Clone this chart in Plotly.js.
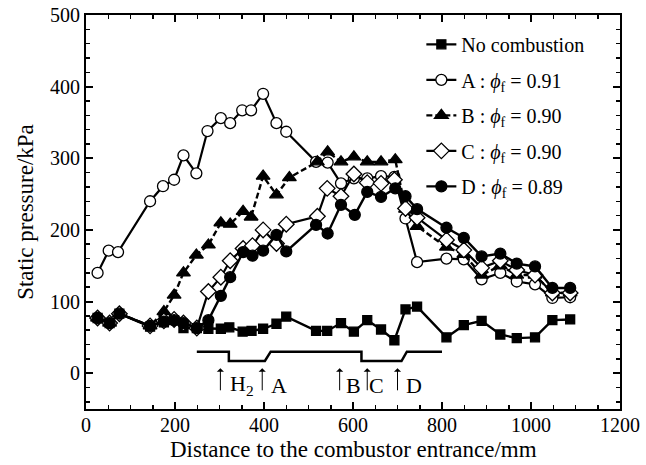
<!DOCTYPE html>
<html>
<head>
<meta charset="utf-8">
<script src="https://cdn.plot.ly/plotly-3.0.1.min.js"></script>
<style>html,body{margin:0;padding:0;background:#fff;}#chart{width:646px;height:465px;}</style>
</head>
<body>
<div id="chart"></div>
<script>
// ---- data ----
const noCombX = [26,53,75,144,175,198,219,249,275,303,322,352,372,398,428,450,517,542,573,602,632,663,693,718,744,810,849,889,931,968,1009,1048,1088];
const noCombY = [77,70,83,65,71,74,63,63,62,62,64,58,59,62,69,79,59,59,70,58,74,61,46,89,93,50,67,73,54,49,50,74,75];

const aX = [26,51,72,144,173,198,219,248,273,303,324,351,371,398,428,450,517,543,573,602,632,663,693,718,744,810,849,889,931,968,1009,1048,1088];
const aY = [140,171,169,240,261,270,304,279,338,356,349,367,367,390,349,337,295,294,265,272,272,275,274,216,155,160,159,131,140,128,124,105,106];

const bX = [26,53,75,144,175,198,219,248,275,303,324,353,371,398,428,457,520,543,573,602,632,663,695,718,744,810,849,889,931,968,1009,1048,1088];
const bY = [77,70,83,66,86,109,140,165,179,210,208,226,218,275,249,273,295,309,295,302,295,295,298,229,205,176,166,137,150,137,137,112,112];

const cX = [26,53,75,144,175,198,219,249,275,303,324,353,374,398,428,450,520,542,573,602,632,663,693,718,744,810,849,889,931,968,1009,1048,1088];
const cY = [77,70,83,66,73,75,70,63,114,134,157,174,178,200,181,208,219,258,247,278,266,265,270,230,217,186,172,147,157,144,137,112,112];

const dX = [26,53,75,144,175,198,219,249,275,303,324,353,374,398,428,450,517,543,573,604,632,663,695,718,744,810,849,889,931,968,1009,1048,1088];
const dY = [77,70,83,66,72,74,70,63,74,108,134,169,164,171,193,170,207,195,235,221,253,246,258,247,229,203,189,163,167,153,149,119,119];

const seriesNames = [
  'No combustion',
  'A : <i>ϕ</i><sub>f</sub> = 0.91',
  'B : <i>ϕ</i><sub>f</sub> = 0.90',
  'C : <i>ϕ</i><sub>f</sub> = 0.90',
  'D : <i>ϕ</i><sub>f</sub> = 0.89'
];

// combustor wall profile
const profileX = [249,321,321,402,415,619,619,709,721,800];
const profileY = [30,30,17,17,30,30,17,17,30,30];

// injector arrows and labels
const arrowX = [302,396,570,632,700];
const arrowTopY = 7, arrowBottomY = -26;
const labelX = [351,434,600,653,736];
const labelText = ['H<sub>2</sub>','A','B','C','D'];
const labelY = -17;

const xTitle = 'Distance to the combustor entrance/mm';
const yTitle = 'Static pressure/kPa';

// ---- chart ----
const FONT = 'Liberation Serif, Times New Roman, serif';
function mk(x, y, name, symbol, fill, size, dash, lw, group) {
  return {
    x: x, y: y, name: name, type: 'scatter', mode: 'lines+markers',
    legendgroup: group,
    line: {color: '#000', width: lw, dash: dash},
    marker: {symbol: symbol, size: size, color: fill, line: {color: '#000', width: 1.3}}
  };
}
const traces = [
  {x: profileX, y: profileY, type: 'scatter', mode: 'lines', showlegend: false,
   line: {color: '#000', width: 2.5}, hoverinfo: 'skip'},
  mk(noCombX, noCombY, seriesNames[0], 'square', '#000', 9, 'solid', 2.4, 'g0'),
  mk(aX, aY, seriesNames[1], 'circle', '#fff', 11, 'solid', 2.2, 'g1'),
  mk(bX, bY, seriesNames[2], 'triangle-up', '#000', 12, '6px,3px', 2.4, 'g2'),
  mk(cX, cY, seriesNames[3], 'diamond', '#fff', 12, 'solid', 2.2, 'g3'),
  mk(dX, dY, seriesNames[4], 'circle', '#000', 11, 'solid', 2.4, 'g4')
];

const annotations = [];
arrowX.forEach(function (ax) {
  annotations.push({x: ax, y: arrowTopY, ax: ax, ay: arrowBottomY, axref: 'x', ayref: 'y',
    xref: 'x', yref: 'y', text: '', showarrow: true, arrowhead: 1, arrowsize: 1.2,
    arrowwidth: 1, arrowcolor: '#000'});
});
labelX.forEach(function (lx, i) {
  annotations.push({x: lx, y: labelY, xref: 'x', yref: 'y', text: labelText[i],
    showarrow: false, font: {family: FONT, size: 22, color: '#000'}});
});
// x-axis title drawn as text just under the tick labels
annotations.push({x: 0.5, y: -0.103, xref: 'paper', yref: 'paper', xanchor: 'center',
  yanchor: 'middle', text: xTitle, showarrow: false,
  font: {family: FONT, size: 23, color: '#000'}});

const axisCommon = {
  showgrid: false, zeroline: false, showline: true, linecolor: '#000', linewidth: 2,
  mirror: 'allticks', ticks: 'inside', ticklen: 7, tickwidth: 2, tickcolor: '#000',
  tickfont: {family: FONT, size: 20, color: '#000'}
};

const layout = {
  width: 646, height: 465,
  margin: {l: 86, r: 26, t: 15, b: 56},
  paper_bgcolor: '#fff', plot_bgcolor: '#fff',
  font: {family: FONT, color: '#000'},
  showlegend: true,
  legend: {x: 0.628, y: 0.975, xanchor: 'left', yanchor: 'top', bgcolor: 'rgba(0,0,0,0)',
    font: {family: FONT, size: 20, color: '#000'}, tracegroupgap: 6.5, traceorder: 'grouped'},
  xaxis: Object.assign({}, axisCommon, {
    range: [0, 1200], dtick: 200, tick0: 0, ticklabelstandoff: -3,
    minor: {ticks: 'inside', dtick: 50, ticklen: 4, tickwidth: 1.5, tickcolor: '#000'}
  }),
  yaxis: Object.assign({}, axisCommon, {
    range: [-50, 500], dtick: 100, tick0: 0,
    minor: {ticks: 'inside', dtick: 20, ticklen: 4, tickwidth: 1.5, tickcolor: '#000'},
    title: {text: yTitle, standoff: 10,
      font: {family: FONT, size: 23, color: '#000'}}
  }),
  annotations: annotations
};

Plotly.newPlot('chart', traces, layout, {displayModeBar: false, staticPlot: true});
</script>
</body>
</html>
